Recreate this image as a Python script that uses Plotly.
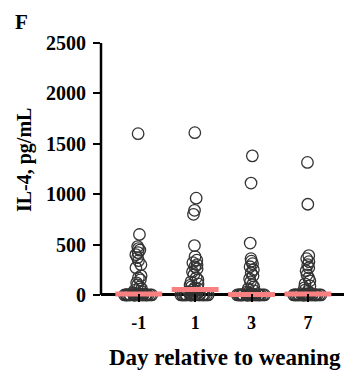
import plotly.graph_objects as go

days = ["-1", "1", "3", "7"]

il4_day_m1 = [1600, 600, 480, 460, 445, 420, 400, 370, 340, 300, 270, 190, 170, 150, 120,
              100, 80, 60, 45, 30, 20, 15, 10, 8, 5, 3] + [0] * 24
il4_day_1 = [1610, 960, 840, 800, 490, 380, 345, 320, 300, 280, 260, 230, 200, 170, 150,
             130, 110, 95, 80, 70, 60, 50, 40, 30, 20, 10, 5] + [0] * 20
il4_day_3 = [1380, 1110, 515, 360, 335, 310, 280, 250, 220, 190, 160, 130, 100, 80, 60,
             40, 30, 20, 10, 5] + [0] * 26
il4_day_7 = [1315, 900, 390, 360, 330, 300, 270, 240, 200, 170, 140, 110, 90, 70, 50,
             35, 20, 10, 5] + [0] * 24
medians = [10, 55, 5, 10]

y_ticks = [0, 500, 1000, 1500, 2000, 2500]

FONT = "Liberation Serif"
series = [il4_day_m1, il4_day_1, il4_day_3, il4_day_7]

fig = go.Figure()
for day, vals in zip(days, series):
    fig.add_trace(go.Box(
        x=[day] * len(vals), y=vals,
        boxpoints="all", jitter=1, pointpos=0, width=0.52,
        fillcolor="rgba(0,0,0,0)", line=dict(color="rgba(0,0,0,0)", width=0),
        marker=dict(symbol="circle-open", size=11.5, color="#333333",
                    line=dict(width=1.3, color="#333333")),
        showlegend=False, hoverinfo="y",
    ))

fig.add_trace(go.Scatter(
    x=days, y=medians, mode="markers", cliponaxis=False, showlegend=False,
    marker=dict(symbol="line-ew", size=33.5, line=dict(width=5, color="#F88080"),
                color="#F88080"),
))

fig.update_layout(
    width=344, height=376,
    margin=dict(l=101, r=0, t=43, b=74),
    plot_bgcolor="white", paper_bgcolor="white",
    font=dict(family=FONT, color="black", size=20, weight="bold"),
    xaxis=dict(
        type="category", categoryorder="array", categoryarray=days,
        range=[-0.67, 3.64], showline=False, showgrid=False, zeroline=False,
        ticks="inside", ticklen=8, tickwidth=2, tickcolor="black",
        tickfont=dict(family=FONT, size=18, weight="bold"),
        ticklabelstandoff=8,
    ),
    yaxis=dict(
        range=[-70, 2500], tickvals=y_ticks, showline=False, showgrid=False,
        zeroline=True, zerolinewidth=2.5, zerolinecolor="black",
        ticks="outside", ticklen=7, tickwidth=2, tickcolor="black",
        tickfont=dict(family=FONT, size=20, weight="bold"),
        ticklabelstandoff=3,
    ),
    shapes=[dict(type="line", xref="paper", yref="y", x0=0, x1=0, y0=0, y1=2500,
                 line=dict(color="black", width=2.5), layer="above")],
    annotations=[
        dict(text="F", xref="paper", yref="paper", x=-0.362, y=1.081,
             xanchor="left", yanchor="middle", showarrow=False,
             font=dict(family=FONT, size=21, weight="bold")),
        dict(text="IL-4, pg/mL", xref="paper", yref="paper", x=-0.317, y=0.548,
             xanchor="center", yanchor="middle", textangle=-90, showarrow=False,
             font=dict(family=FONT, size=20, weight="bold")),
        dict(text="Day relative to weaning", xref="paper", yref="paper", x=0.51, y=-0.216,
             xanchor="center", yanchor="middle", showarrow=False,
             font=dict(family=FONT, size=23, weight="bold")),
    ],
)

fig.write_html("out.html")
